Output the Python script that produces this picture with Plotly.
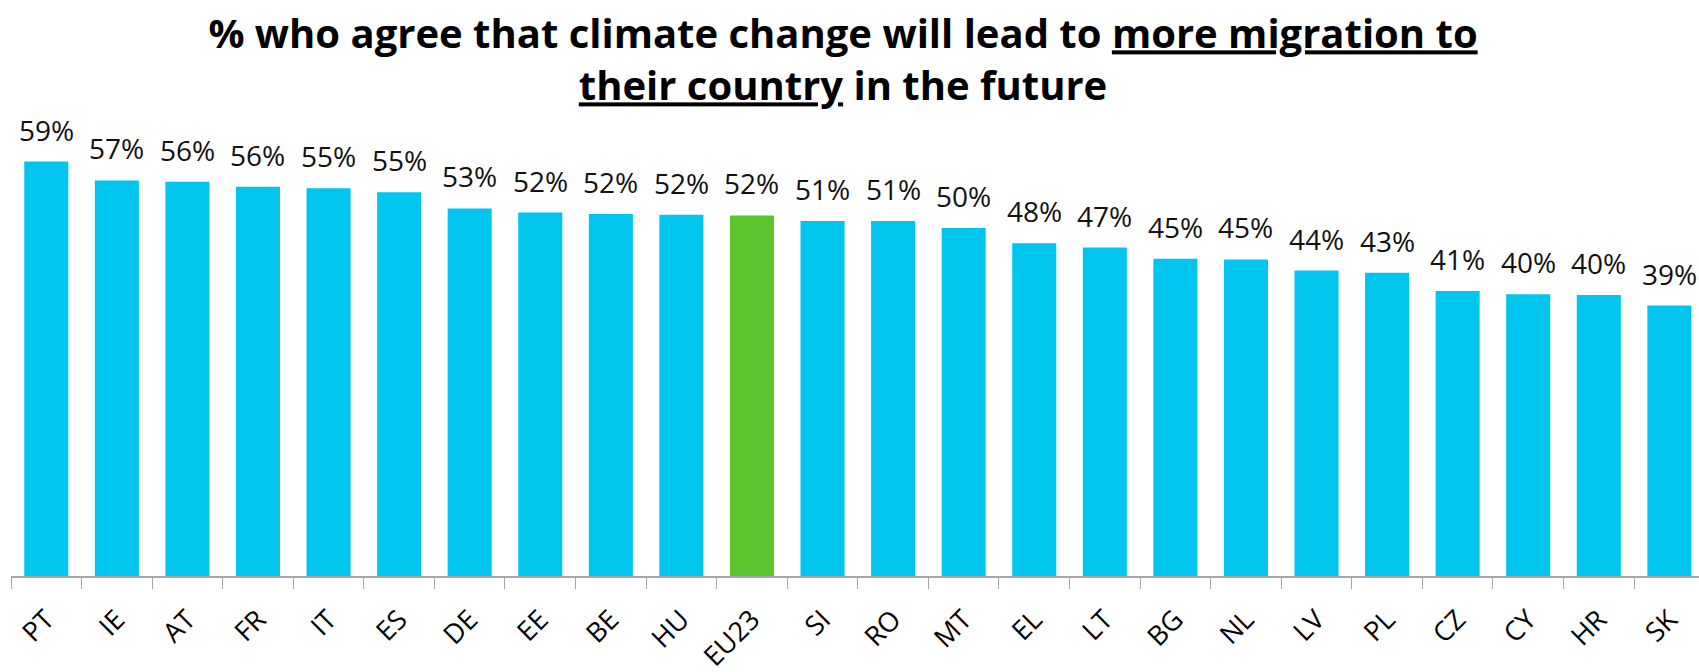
import plotly.graph_objects as go

countries = ["PT", "IE", "AT", "FR", "IT", "ES", "DE", "EE", "BE", "HU", "EU23", "SI",
             "RO", "MT", "EL", "LT", "BG", "NL", "LV", "PL", "CZ", "CY", "HR", "SK"]
# bar heights (share agreeing)
values = [0.593, 0.566, 0.564, 0.557, 0.555, 0.549, 0.526, 0.520, 0.518, 0.517, 0.516, 0.508,
          0.508, 0.498, 0.476, 0.470, 0.454, 0.453, 0.437, 0.434, 0.408, 0.403, 0.402, 0.387]
# printed data labels (%)
labels = [59, 57, 56, 56, 55, 55, 53, 52, 52, 52, 52, 51,
          51, 50, 48, 47, 45, 45, 44, 43, 41, 40, 40, 39]

BLUE = "#00C5EE"
GREEN = "#5CC42E"
colors = [GREEN if c == "EU23" else BLUE for c in countries]

fig = go.Figure()
fig.add_trace(go.Bar(x=countries, y=values, marker=dict(color=colors, line=dict(width=0)),
                     hoverinfo="x+y"))

for c, v, l in zip(countries, values, labels):
    fig.add_annotation(x=c, y=v, text=f"{l}%", showarrow=False, yanchor="bottom",
                       yshift=11, font=dict(family="Open Sans", size=28, color="#111111"))

fig.update_layout(
    width=1699, height=672,
    paper_bgcolor="white", plot_bgcolor="white",
    margin=dict(l=11, r=0, t=156, b=96, autoexpand=False),
    bargap=0.376,
    showlegend=False,
    title=dict(
        text="% who agree that climate change will lead to <u>more migration to</u><br>"
             "<u>their country</u> in the future",
        font=dict(family="Open Sans", size=40, color="black", weight="bold"),
        x=0.4962, xanchor="center", y=0.928, yanchor="top",
    ),
    xaxis=dict(
        type="category", range=[-0.5, 23.42], automargin=False,
        showline=True, linecolor="#A6A6A6", linewidth=2,
        ticks="outside", ticklen=11, tickwidth=1, tickcolor="#A6A6A6",
        tickson="boundaries", tickangle=-45, ticklabelstandoff=15,
        ticklabeloverflow="allow",
        tickfont=dict(family="Open Sans", size=27, color="black"),
        showgrid=False, zeroline=False,
    ),
    yaxis=dict(visible=False, range=[0, 0.601], showgrid=False, zeroline=False,
               automargin=False),
)

fig.write_html("out.html",
               config={"displayModeBar": False},
               post_script="document.body.style.margin='0px';"
                           "document.body.style.overflow='hidden';")
